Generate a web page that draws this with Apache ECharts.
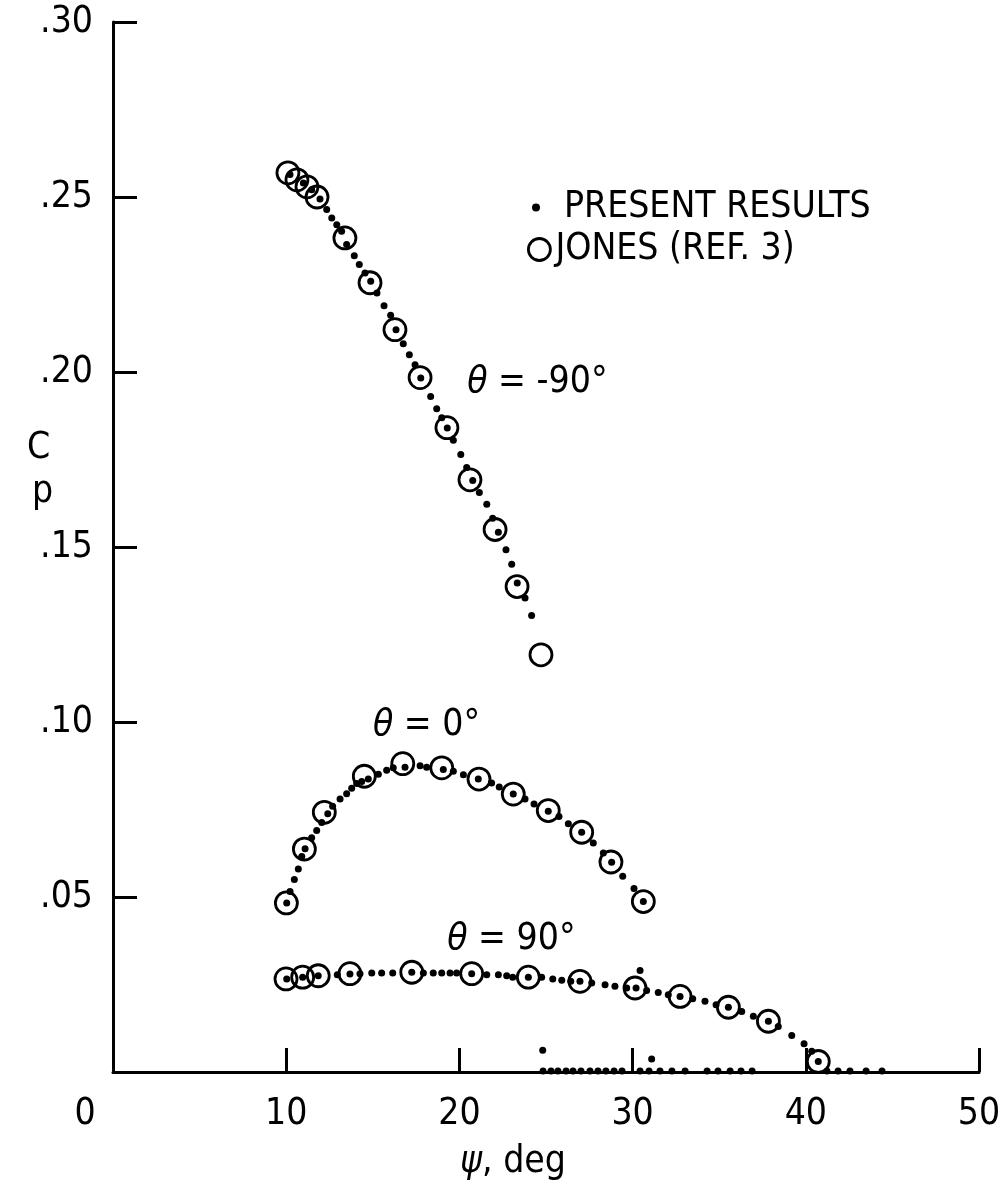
<!DOCTYPE html>
<html>
<head>
<meta charset="utf-8">
<script src="https://cdn.jsdelivr.net/npm/echarts@6/dist/echarts.min.js"></script>
<style>
  html, body { margin: 0; padding: 0; background: #fff; }
  #chart { width: 1004px; height: 1189px; }
</style>
</head>
<body>
<div id="chart"></div>
<script>
// present results, theta = -90
var psiDotsM90 = [10.22, 10.99, 11.47, 11.95, 12.34, 12.63, 12.92, 13.20, 13.49, 13.93, 14.22, 14.55, 14.88, 15.24, 15.65, 16.03, 16.34, 16.76, 17.11, 17.44, 17.77, 18.34, 18.69, 18.98, 19.30, 19.65, 20.08, 20.42, 20.77, 21.15, 21.58, 21.92, 22.25, 22.69, 23.02, 23.34, 23.79, 24.17];
var cpDotsM90 = [0.2564, 0.2540, 0.2521, 0.2494, 0.2464, 0.2440, 0.2421, 0.2402, 0.2364, 0.2332, 0.2307, 0.2283, 0.2259, 0.2226, 0.2189, 0.2162, 0.2121, 0.2081, 0.2049, 0.2021, 0.1983, 0.1930, 0.1895, 0.1869, 0.1840, 0.1805, 0.1764, 0.1727, 0.1690, 0.1656, 0.1622, 0.1582, 0.1542, 0.1492, 0.1451, 0.1397, 0.1354, 0.1304];
// present results, theta = 0
var psiDots0 = [10.03, 10.22, 10.47, 10.70, 10.90, 11.09, 11.47, 11.76, 12.05, 12.40, 12.68, 13.11, 13.49, 13.78, 14.07, 14.36, 14.74, 15.32, 15.80, 16.18, 16.86, 17.73, 18.11, 19.07, 19.65, 20.23, 21.09, 21.86, 22.30, 23.11, 23.79, 24.31, 25.13, 25.75, 26.29, 27.06, 27.73, 28.31, 28.79, 29.43, 30.08, 30.62];
var cpDots0 = [0.0483, 0.0516, 0.0550, 0.0580, 0.0616, 0.0638, 0.0669, 0.0690, 0.0713, 0.0738, 0.0759, 0.0780, 0.0795, 0.0811, 0.0824, 0.0830, 0.0837, 0.0851, 0.0862, 0.0869, 0.0871, 0.0875, 0.0871, 0.0864, 0.0859, 0.0849, 0.0837, 0.0826, 0.0814, 0.0794, 0.0780, 0.0766, 0.0745, 0.0730, 0.0709, 0.0685, 0.0654, 0.0626, 0.0599, 0.0559, 0.0524, 0.0487];
// present results, theta = 90
var psiDots90 = [10.03, 10.95, 11.85, 12.95, 13.68, 14.26, 14.94, 15.51, 16.15, 17.25, 17.92, 18.49, 18.98, 19.46, 19.84, 20.71, 21.58, 22.25, 22.73, 23.08, 23.98, 24.75, 25.39, 25.91, 26.43, 26.96, 27.64, 28.41, 28.98, 29.66, 30.20, 30.81, 31.48, 32.06, 32.74, 33.47, 34.18, 34.82, 35.53, 36.30, 36.97, 37.84, 38.41, 39.19, 39.90, 40.34, 40.72];
var cpDots90 = [0.0266, 0.0271, 0.0275, 0.0278, 0.0280, 0.0281, 0.0283, 0.0283, 0.0283, 0.0285, 0.0283, 0.0283, 0.0283, 0.0283, 0.0283, 0.0281, 0.0278, 0.0278, 0.0275, 0.0271, 0.0271, 0.0271, 0.0266, 0.0262, 0.0259, 0.0259, 0.0254, 0.0249, 0.0245, 0.0240, 0.0240, 0.0233, 0.0227, 0.0221, 0.0216, 0.0209, 0.0202, 0.0192, 0.0185, 0.0173, 0.0159, 0.0145, 0.0130, 0.0104, 0.0081, 0.0059, 0.0030];
// stray present-results points near the axis
var psiDotsLow = [24.81, 31.10, 30.43, 24.83, 25.29, 25.69, 26.16, 26.56, 27.02, 27.54, 28.00, 28.46, 28.93, 29.39, 30.43, 30.95, 31.58, 32.27, 33.03, 34.30, 34.93, 35.63, 36.26, 36.90, 41.22, 41.86, 42.55, 43.48, 44.40];
var cpDotsLow = [0.0062, 0.0037, 0.0290, 0.0003, 0.0003, 0.0003, 0.0003, 0.0003, 0.0003, 0.0003, 0.0003, 0.0003, 0.0003, 0.0003, 0.0003, 0.0003, 0.0003, 0.0003, 0.0003, 0.0003, 0.0003, 0.0003, 0.0003, 0.0003, 0.0003, 0.0003, 0.0003, 0.0003, 0.0003];

// Jones (ref. 3)
var psiJonesM90 = [10.10, 10.62, 11.20, 11.78, 13.39, 14.84, 16.28, 17.73, 19.28, 20.61, 22.06, 23.33, 24.71];
var cpJonesM90 = [0.2569, 0.2549, 0.2529, 0.2500, 0.2383, 0.2255, 0.2121, 0.1984, 0.1841, 0.1692, 0.1550, 0.1387, 0.1192];
var psiJones0 = [10.01, 11.05, 12.20, 14.51, 16.73, 18.98, 21.13, 23.11, 25.13, 27.06, 28.75, 30.62];
var cpJones0 = [0.0483, 0.0637, 0.0742, 0.0845, 0.0881, 0.0869, 0.0837, 0.0794, 0.0747, 0.0685, 0.0600, 0.0487];
var psiJones90 = [9.99, 10.95, 11.85, 13.68, 17.25, 20.71, 23.98, 26.96, 30.14, 32.74, 35.53, 37.84, 40.72];
var cpJones90 = [0.0266, 0.0271, 0.0275, 0.0281, 0.0285, 0.0281, 0.0271, 0.0259, 0.0240, 0.0216, 0.0185, 0.0145, 0.0030];

var xTicks = [0, 10, 20, 30, 40, 50];
var yTicks = [0, 0.05, 0.10, 0.15, 0.20, 0.25, 0.30];

var curveLabels = ['-90°', '0°', '90°'];
var labelPsi = [24.5, 18.1, 23.0];
var labelCp = [0.1969, 0.0989, 0.0378];

var FONT = "'Liberation Sans Narrow', 'DejaVu Sans Condensed', sans-serif";
var DOTS = 'PRESENT RESULTS';
var JONES = 'JONES (REF. 3)';

function zip (xs, ys) {
  return xs.map(function (x, i) { return [x, ys[i]]; });
}

function dotSeries (xs, ys) {
  return {
    name: DOTS, type: 'scatter', symbol: 'circle', symbolSize: 7,
    itemStyle: { color: '#000', opacity: 1 }, z: 3,
    data: zip(xs, ys)
  };
}
function jonesSeries (xs, ys) {
  return {
    name: JONES, type: 'scatter', symbol: 'circle', symbolSize: 22,
    itemStyle: { color: 'rgba(0,0,0,0)', borderColor: '#000', borderWidth: 2.8, opacity: 1 }, z: 2,
    data: zip(xs, ys)
  };
}

var myChart = echarts.init(document.getElementById('chart'));
myChart.setOption({
  animation: false,
  backgroundColor: '#fff',
  grid: { left: 113, right: 25, top: 22, bottom: 117, outerBoundsMode: 'none' },
  legend: [
    {
      data: [DOTS], left: 527, top: 184, orient: 'vertical', selectedMode: false,
      icon: 'circle', itemWidth: 46, itemHeight: 8, itemGap: 0,
      itemStyle: { color: '#000', opacity: 1 },
      textStyle: { fontFamily: FONT, fontSize: 37, color: '#000' }
    },
    {
      data: [{ name: JONES, icon: 'circle', itemStyle: { color: 'rgba(0,0,0,0)', borderColor: '#000', borderWidth: 2.8, opacity: 1 } }],
      left: 522, top: 226, orient: 'vertical', selectedMode: false,
      itemWidth: 22, itemHeight: 22,
      textStyle: { fontFamily: FONT, fontSize: 37, color: '#000' }
    }
  ],
  xAxis: {
    type: 'value', min: xTicks[0], max: xTicks[xTicks.length - 1], interval: 10,
    axisLine: { lineStyle: { color: '#000', width: 3 } },
    axisTick: { inside: true, length: 24, lineStyle: { color: '#000', width: 3 } },
    splitLine: { show: false },
    axisLabel: {
      margin: 24, color: '#000', fontFamily: FONT, fontSize: 37,
      formatter: function (v) { return v === 0 ? '{z|0}' : String(v); },
      rich: { z: { fontFamily: FONT, fontSize: 37, color: '#000', padding: [0, 56, 0, 0] } }
    },
    name: '{i|ψ}, deg', nameLocation: 'middle', nameGap: 72,
    nameTextStyle: {
      fontFamily: FONT, fontSize: 37, color: '#000', padding: [0, 66, 0, 0],
      rich: { i: { fontFamily: FONT, fontSize: 37, fontStyle: 'italic', color: '#000' } }
    }
  },
  yAxis: {
    type: 'value', min: yTicks[0], max: yTicks[yTicks.length - 1], interval: 0.05,
    axisLine: { lineStyle: { color: '#000', width: 3 } },
    axisTick: { inside: true, length: 24, lineStyle: { color: '#000', width: 3 } },
    splitLine: { show: false },
    axisLabel: {
      margin: 20, color: '#000', fontFamily: FONT, fontSize: 37,
      formatter: function (v) {
        if (v === 0) return '';
        var s = String(Math.round(v * 100));
        return '.' + (s.length < 2 ? '0' + s : s);
      }
    }
  },
  series: [
    jonesSeries(psiJonesM90, cpJonesM90),
    jonesSeries(psiJones0, cpJones0),
    jonesSeries(psiJones90, cpJones90),
    dotSeries(psiDotsM90, cpDotsM90),
    dotSeries(psiDots0, cpDots0),
    dotSeries(psiDots90, cpDots90),
    dotSeries(psiDotsLow, cpDotsLow)
  ]
});

// curve labels and the C_p axis title
var graphics = curveLabels.map(function (t, i) {
  var p = myChart.convertToPixel({ gridIndex: 0 }, [labelPsi[i], labelCp[i]]);
  return {
    type: 'text', x: p[0], y: p[1],
    style: {
      text: '{i|θ} = ' + t, align: 'center', verticalAlign: 'middle',
      font: '37px ' + FONT, fill: '#000',
      rich: { i: { fontFamily: FONT, fontSize: 37, fontStyle: 'italic' } }
    }
  };
});
graphics.push({
  type: 'text', left: 27, top: 426,
  style: {
    text: 'C\n{p|p}', font: '37px ' + FONT, fill: '#000', lineHeight: 44,
    rich: { p: { fontFamily: FONT, fontSize: 37, padding: [0, 0, 0, 5] } }
  }
});
myChart.setOption({ graphic: graphics });
</script>
</body>
</html>
